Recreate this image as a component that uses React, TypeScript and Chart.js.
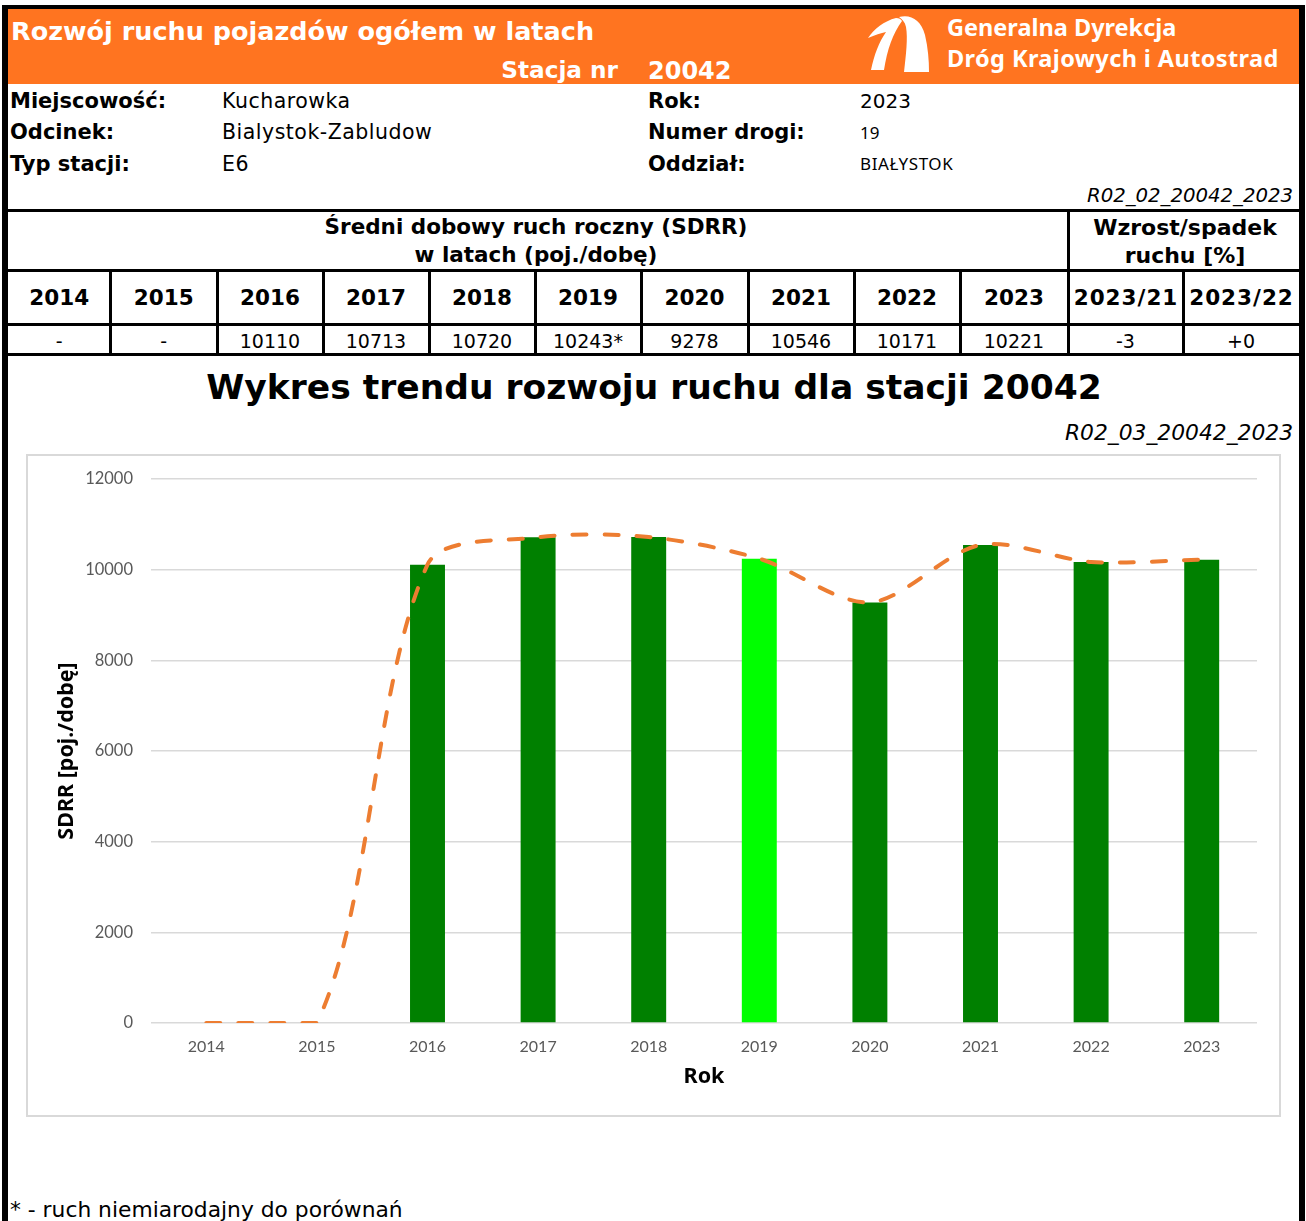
import React, { useEffect, useRef } from 'react';
import { Chart, registerables } from 'chart.js';

Chart.register(...registerables);

// ---- data ----
const years = ['2014', '2015', '2016', '2017', '2018', '2019', '2020', '2021', '2022', '2023'];
const sdrrValues: (number | null)[] = [null, null, 10110, 10713, 10720, 10243, 9278, 10546, 10171, 10221];
const trendValues = [0, 0, 10110, 10713, 10720, 10243, 9278, 10546, 10171, 10221];
const tableValues = ['-', '-', '10110', '10713', '10720', '10243*', '9278', '10546', '10171', '10221'];
const unreliableYears = ['2019'];
const changeLabels = ['2023/21', '2023/22'];
const changeValues = ['-3', '+0'];
const yTickMin = 0;
const yTickMax = 12000;
const yTickStep = 2000;

const infoLeft = [
  ['Miejscowość:', 'Kucharowka'],
  ['Odcinek:', 'Bialystok-Zabludow'],
  ['Typ stacji:', 'E6'],
];
const infoRight = [
  ['Rok:', '2023'],
  ['Numer drogi:', '19'],
  ['Oddział:', 'BIAŁYSTOK'],
];

const W = 1306;
const DJ = '"DejaVu Sans", Verdana, sans-serif';
const NOTO = '"Noto Sans", sans-serif';

type TP = {
  x: number; y: number; s: number; t: string; b?: boolean; i?: boolean;
  a?: 'l' | 'r' | 'c'; c?: string; f?: string; ls?: number;
};
const Txt = ({ x, y, s, t, b, i, a = 'l', c = '#000', f = DJ, ls = 0 }: TP) => {
  const lh = Math.round(s * 1.4);
  const style: React.CSSProperties = {
    position: 'absolute', top: y - lh / 2, lineHeight: lh + 'px', height: lh,
    fontSize: s, fontFamily: f, fontWeight: b ? 700 : 400,
    fontStyle: i ? 'italic' : 'normal', color: c, whiteSpace: 'nowrap',
    letterSpacing: ls,
  };
  if (a === 'l') style.left = x;
  else if (a === 'r') style.right = W - x - ls;
  else { style.left = x - 600 + ls / 2; style.width = 1200; style.textAlign = 'center'; }
  return <div style={style}>{t}</div>;
};

const Box = ({ x, y, w, h, c = '#000' }: { x: number; y: number; w: number; h: number; c?: string }) => (
  <div style={{ position: 'absolute', left: x, top: y, width: w, height: h, background: c }} />
);

const colEdges = [8, 110.5, 217, 323, 429, 535, 641, 748, 854, 960, 1068, 1183, 1299];

function TrendChart() {
  const ref = useRef<HTMLCanvasElement | null>(null);
  useEffect(() => {
    if (!ref.current) return;
    const barColors = years.map((y) => (unreliableYears.includes(y) ? '#00FF00' : '#008000'));
    const chart = new Chart(ref.current, {
      type: 'bar',
      data: {
        labels: years,
        datasets: [
          {
            type: 'line',
            label: 'trend',
            data: trendValues,
            borderColor: '#ED7D31',
            borderWidth: 4,
            borderDash: [14, 18],
            borderCapStyle: 'round',
            tension: 0.3,
            pointRadius: 0,
            fill: false,
            order: 0,
          } as any,
          {
            type: 'bar',
            label: 'SDRR',
            data: sdrrValues,
            backgroundColor: barColors,
            borderWidth: 0,
            barPercentage: 0.316,
            categoryPercentage: 1,
            order: 1,
          } as any,
        ],
      },
      options: {
        animation: false,
        responsive: false,
        events: [],
        layout: { padding: { top: 24, right: 23, left: 0, bottom: 0 } },
        plugins: { legend: { display: false }, tooltip: { enabled: false } },
        scales: {
          x: {
            grid: { display: false, drawTicks: false },
            border: { display: false },
            ticks: { color: '#595959', font: { family: 'Lato', size: 16 }, padding: 14 },
            title: {
              display: true, text: 'Rok', color: '#000',
              font: { family: '"Noto Sans"', size: 21.5, weight: 'bold' },
              padding: { top: 0, bottom: 26 },
            },
            afterFit: (s: any) => { s.height = 93; },
          },
          y: {
            min: yTickMin,
            max: yTickMax,
            grid: { color: '#D9D9D9', lineWidth: 1.5, drawTicks: false },
            border: { display: false },
            ticks: {
              stepSize: yTickStep, color: '#595959', font: { family: 'Lato', size: 16.5 }, padding: 18,
              callback: (v: any) => String(v),
            },
            title: {
              display: true, text: 'SDRR [poj./dobę]', color: '#000',
              font: { family: '"Noto Sans"', size: 21.5, weight: 'bold' },
              padding: { top: 27, bottom: 0 },
            },
            afterFit: (s: any) => {
              s.width = 124;
              s.paddingTop = 0;
              s.paddingBottom = 0;
            },
          },
        },
      } as any,
    });
    return () => chart.destroy();
  }, []);
  return (
    <canvas
      ref={ref}
      width={1253}
      height={661}
      style={{ position: 'absolute', left: 27, top: 455, width: 1253, height: 661 }}
    />
  );
}

export default function App() {
  const yearCenters = years.map((_, i) => (colEdges[i] + colEdges[i + 1]) / 2);
  const chCenters = changeLabels.map((_, i) => (colEdges[10 + i] + colEdges[11 + i]) / 2);
  return (
    <div style={{ position: 'absolute', left: 0, top: 0, width: W, height: 1221, background: '#fff', overflow: 'hidden' }}>
      {/* outer frame */}
      <Box x={2} y={5} w={1303} h={4} />
      <Box x={2} y={5} w={6} h={1216} />
      <Box x={1299} y={5} w={6} h={1216} />
      {/* orange header */}
      <Box x={8} y={9} w={1291} h={75} c="#FF7420" />
      <Txt x={11} y={31} s={25.5} b t="Rozwój ruchu pojazdów ogółem w latach" c="#fff" />
      <Txt x={618} y={70} s={23.2} b a="r" t="Stacja nr" c="#fff" />
      <Txt x={648} y={71} s={24} b t="20042" c="#fff" />
      <svg width={W} height={90} style={{ position: 'absolute', left: 0, top: 0 }}>
        <path
          d="M 871 70 C 874 55, 879 42, 886 32 C 881 33, 875 35, 868 38 C 874 29, 884 21, 896 18 C 899 18, 901 19, 902 21 C 893 33, 887 50, 884 70 Z"
          fill="#fff"
        />
        <path
          d="M 904 72 C 906 55, 908 38, 906 27 C 905 22, 902 19, 899 17 C 911 14, 921 20, 925 35 C 928 48, 929 60, 929 72 Z"
          fill="#fff"
        />
      </svg>
      <Txt x={947} y={27} s={23.5} b f={NOTO} t="Generalna Dyrekcja" c="#fff" />
      <Txt x={947} y={58} s={23.5} b f={NOTO} t="Dróg Krajowych i Autostrad" c="#fff" ls={0.4} />

      {/* info block */}
      {infoLeft.map(([l, v], i) => (
        <React.Fragment key={'il' + i}>
          <Txt x={10} y={101 + i * 31.5} s={21} b t={l} />
          <Txt x={222} y={101 + i * 31.5} s={20.5} t={v} ls={0.5} />
        </React.Fragment>
      ))}
      {infoRight.map(([l, v], i) => (
        <React.Fragment key={'ir' + i}>
          <Txt x={648} y={101 + i * 31.5} s={21} b t={l} />
          <Txt x={860} y={101 + i * 31.5} s={i === 0 ? 20 : 17} f={i === 0 ? DJ : NOTO} t={v} ls={i === 2 ? 0.6 : 0} />
        </React.Fragment>
      ))}
      <Txt x={1293} y={196} s={19.7} i a="r" t="R02_02_20042_2023" />

      {/* table */}
      <Box x={8} y={209} w={1291} h={3} />
      <Box x={8} y={269} w={1291} h={3} />
      <Box x={8} y={323} w={1291} h={3} />
      <Box x={8} y={353} w={1291} h={3} />
      {colEdges.slice(1, 10).map((e, i) => (
        <Box key={'v' + i} x={e - 1.5} y={270} w={3} h={84} />
      ))}
      <Box x={1066.5} y={210} w={3} h={144} />
      <Box x={1181.5} y={270} w={3} h={84} />
      <Txt x={536} y={227} s={21.5} b a="c" t="Średni dobowy ruch roczny (SDRR)" />
      <Txt x={536} y={255} s={21.5} b a="c" t="w latach (poj./dobę)" />
      <Txt x={1185} y={227} s={22} b a="c" t="Wzrost/spadek" />
      <Txt x={1185} y={255} s={22} b a="c" t="ruchu [%]" />
      {years.map((y, i) => (
        <Txt key={'y' + i} x={yearCenters[i]} y={298} s={21.5} b a="c" t={y} />
      ))}
      {changeLabels.map((l, i) => (
        <Txt key={'cl' + i} x={chCenters[i]} y={298} s={21.5} b a="c" t={l} ls={1} />
      ))}
      {tableValues.map((v, i) => (
        <Txt key={'tv' + i} x={yearCenters[i]} y={341} s={19} a="c" t={v} />
      ))}
      {changeValues.map((v, i) => (
        <Txt key={'cv' + i} x={chCenters[i]} y={341} s={19} a="c" t={v} />
      ))}

      {/* chart section */}
      <Txt x={654} y={387} s={34.5} b a="c" t="Wykres trendu rozwoju ruchu dla stacji 20042" />
      <Txt x={1293} y={432} s={21.8} i a="r" t="R02_03_20042_2023" />
      <div
        style={{
          position: 'absolute', left: 26, top: 454, width: 1255, height: 663,
          border: '2px solid #D9D9D9', boxSizing: 'border-box',
        }}
      />
      <TrendChart />

      <Txt x={10} y={1209} s={21.8} t="* - ruch niemiarodajny do porównań" />
    </div>
  );
}
